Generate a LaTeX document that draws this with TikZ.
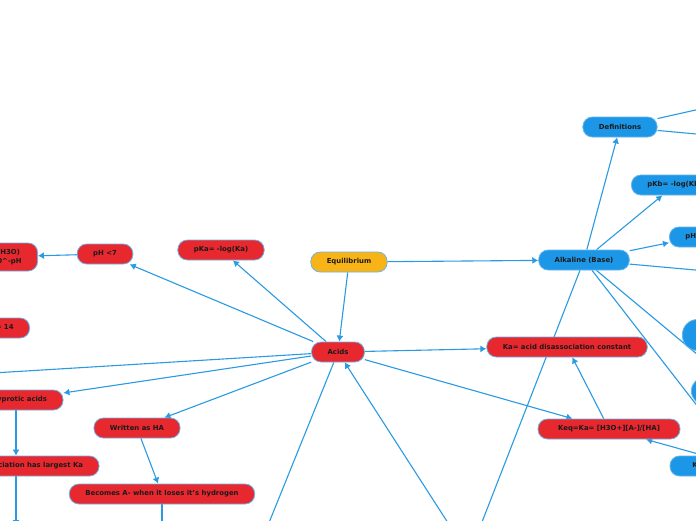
\documentclass[tikz,border=0pt]{standalone}
\usepackage{fontspec}
\setmainfont{DejaVu Sans}
\usetikzlibrary{arrows.meta,positioning,calc}
\definecolor{acidred}{HTML}{E8282F}
\definecolor{baseblue}{HTML}{1C97E8}
\definecolor{eqyellow}{HTML}{F8B417}
\definecolor{linkblue}{HTML}{2A9BE2}
\definecolor{rimblue}{HTML}{6AB4EA}
\definecolor{inktext}{HTML}{1A1A1A}
\pgfdeclarelayer{links}
\pgfsetlayers{links,main}
\tikzset{
  topic/.style={draw=rimblue, line width=0.8pt, rounded corners=9.5pt,
                minimum height=20pt, inner xsep=16pt, inner ysep=2pt, align=center,
                font=\fontsize{6.9}{8.5}\selectfont\bfseries, text=inktext},
  acidtopic/.style={topic, fill=acidred},
  basetopic/.style={topic, fill=baseblue},
  roottopic/.style={topic, fill=eqyellow},
  link/.style={-{Latex[length=6pt,width=7pt]}, linkblue, line width=1.1pt}
}

\begin{document}
\begin{tikzpicture}[x=1pt, y=-1pt]
\useasboundingbox (0,0) rectangle (696,520);
\clip (0,0) rectangle (696,520);

% centre of the map
\node[roottopic] (eq) at (349,262) {Equilibrium};
\node[acidtopic] (acids) at (338,352) {Acids};
\node[basetopic] (base) at (584,260) {Alkaline (Base)};

% acid side
\node[acidtopic] (ka) at (567,347) {Ka= acid disassociation constant};
\node[acidtopic, minimum width=142pt] (keqa) at (609,429) {Keq=Ka= [H3O+][A-]/[HA]};
\node[acidtopic] (pka) at (221,250) {pKa= -log(Ka)};
\node[acidtopic] (phlow) at (105,254) {pH <7};
\node[acidtopic, anchor=east, minimum height=28pt] (phcalc) at (38,257) {pH= -log(H3O)\\(H3O)= 10\textasciicircum-pH};
\node[acidtopic, anchor=east] (phsum) at (30,328) {pH + pOH = 14};
\node[acidtopic] (poly) at (16,400) {Polyprotic acids};
\node[acidtopic] (first) at (16,466) {First disassociation has largest Ka};
\node[acidtopic] (writ) at (137,428) {Written as HA};
\node[acidtopic] (becomes) at (162,494) {Becomes A- when it loses it's hydrogen};

% base side
\node[basetopic] (defs) at (620,127) {Definitions};
\node[basetopic, anchor=west] (pkb) at (631,185) {pKb= -log(Kb)};
\node[basetopic, anchor=west] (phhigh) at (669,237) {pH >7};
\node[basetopic, minimum width=142pt] (keqb) at (741,466) {Keq=Kb= [HB+][OH-]/[B]};
\node[basetopic, anchor=west, minimum width=60pt, minimum height=31pt, rounded corners=15pt] (bub1) at (682,335) {};
\node[basetopic, anchor=west, minimum width=60pt, minimum height=28pt, rounded corners=14pt] (bub2) at (691,391) {};

% ends of links that leave the page
\coordinate (farleft) at (-40,375);
\coordinate (firstdown) at (16,526);
\coordinate (becdown) at (162,540);
\coordinate (acdown) at (262,540);
\coordinate (upacid) at (459,540);
\coordinate (basedown) at (475,540);
\coordinate (baseright) at (740,274);
\coordinate (baselowa) at (740,390);
\coordinate (baselowb) at (740,461);
\coordinate (defup) at (740,100);
\coordinate (deflow) at (740,138);

\begin{pgfonlayer}{links}
\fill[white] (0,0) rectangle (696,520);
\draw[link] (eq) -- (acids);
\draw[link] (eq) -- (base);
\draw[link] (acids) -- (ka);
\draw[link] (acids) -- (pka);
\draw[link] (acids) -- (phlow);
\draw[link] (phlow) -- (phcalc);
\draw[link] (acids) -- (farleft);
\draw[link] (acids) -- (poly);
\draw[link] (acids) -- (writ);
\draw[link] (acids) -- (keqa);
\draw[link] (acids) -- (acdown);
\draw[link] (upacid) -- (acids);
\draw[link] (writ) -- (becomes);
\draw[link] (becomes) -- (becdown);
\draw[link] (poly) -- (first);
\draw[link] (first) -- (firstdown);
\draw[link] (keqa) -- (ka);
\draw[link] (keqb) -- (keqa);
\draw[link] (base) -- (defs);
\draw[link] (base) -- (pkb);
\draw[link] (base) -- (phhigh);
\draw[link] (base) -- (baseright);
\draw[link] (base) -- (baselowa);
\draw[link] (base) -- (baselowb);
\draw[link] (base) -- (basedown);
\draw[link] (defs) -- (defup);
\draw[link] (defs) -- (deflow);
\end{pgfonlayer}
\end{tikzpicture}
\end{document}
